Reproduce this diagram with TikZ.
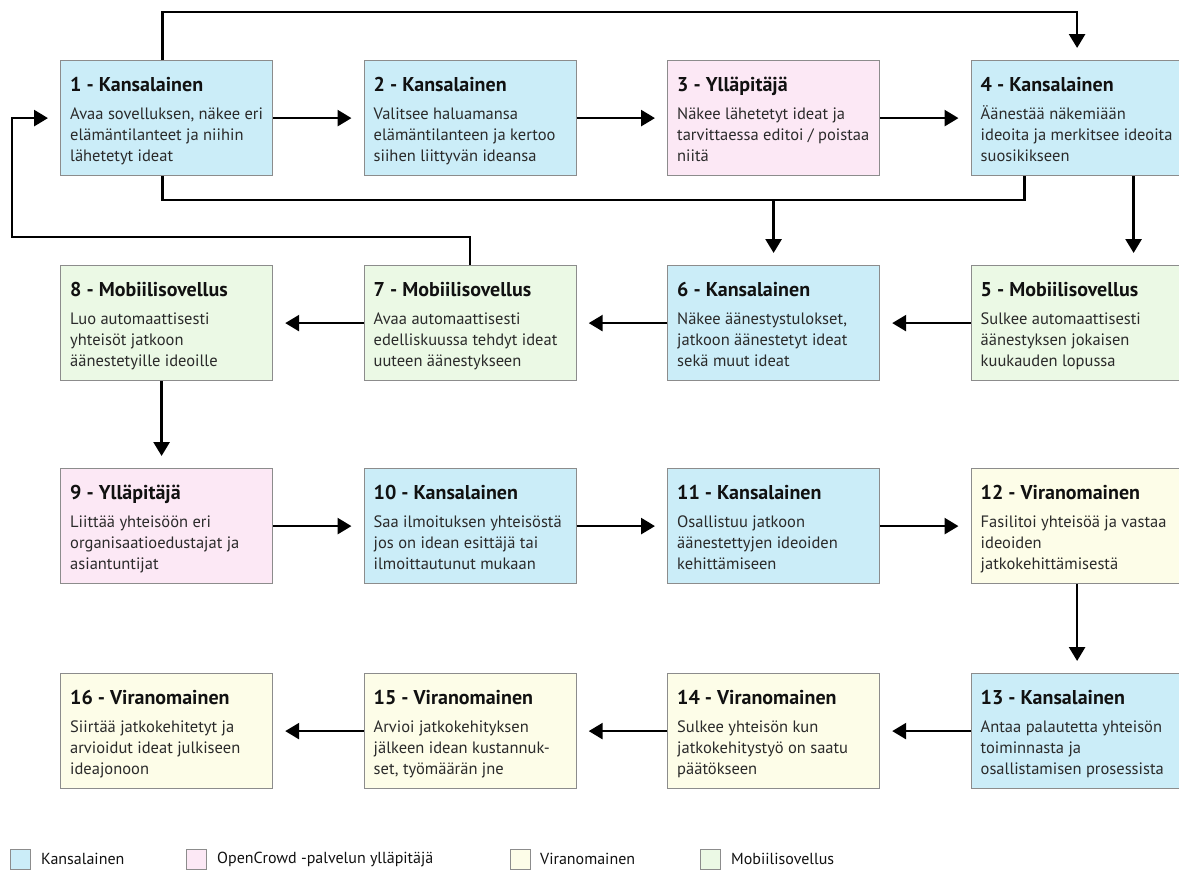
\documentclass[tikz,border=0pt]{standalone}
\usepackage{fontspec}
\setmainfont{PT Sans}
\usetikzlibrary{arrows.meta}

\definecolor{citizen}{HTML}{CBEDF8}
\definecolor{admin}{HTML}{FCE8F5}
\definecolor{authority}{HTML}{FDFDE8}
\definecolor{mobile}{HTML}{EBF9E5}
\definecolor{edge}{HTML}{8C8C8C}
\definecolor{ink}{HTML}{111111}
\definecolor{bodyink}{HTML}{2A2A2A}

\tikzset{
  card/.style={draw=edge, line width=1.2pt, rectangle, inner sep=0pt,
    minimum width=212pt, minimum height=115pt, anchor=north west},
  cardhead/.style={anchor=base west, inner sep=0pt,
    font=\fontsize{20}{22}\selectfont\bfseries, text=ink},
  cardbody/.style={anchor=base west, inner sep=0pt,
    font=\fontsize{16.5}{21}\selectfont, text=bodyink},
  conn/.style={line width=2.7pt, line join=miter},
  flow/.style={conn, -{Triangle[length=14pt,width=16pt]}, shorten >=12pt},
  key/.style={draw=edge, line width=1pt, minimum size=20pt, inner sep=0pt,
    anchor=north west},
  keytext/.style={anchor=west, inner sep=0pt,
    font=\fontsize{16}{19}\selectfont, text=ink},
}

% one process step: name, left, top, fill colour, heading, description
\newcommand\flowcard[6]{%
  \node[card, fill=#4] (#1) at (#2,#3) {};
  \node[cardhead] (#1h) at ([shift={(10pt,-31.5pt)}]#1.north west) {#5};
  \node[cardbody] (#1d) at ([shift={(10pt,-59.5pt)}]#1.north west)
    {\parbox[t]{205pt}{\raggedright #6}};
}

\begin{document}
\begin{tikzpicture}[x=1pt, y=-1pt]
\useasboundingbox (0,0) rectangle (1179,870);

% row 1
\flowcard{b1}{60}{60}{citizen}{1 - Kansalainen}
  {Avaa sovelluksen, näkee eri\\elämäntilanteet ja niihin\\lähetetyt ideat}
\flowcard{b2}{363.5}{60}{citizen}{2 - Kansalainen}
  {Valitsee haluamansa\\elämäntilanteen ja kertoo\\siihen liittyvän ideansa}
\flowcard{b3}{667}{60}{admin}{3 - Ylläpitäjä}
  {Näkee lähetetyt ideat ja\\tarvittaessa editoi / poistaa\\niitä}
\flowcard{b4}{970.5}{60}{citizen}{4 - Kansalainen}
  {Äänestää näkemiään\\ideoita ja merkitsee ideoita\\suosikikseen}

% row 2
\flowcard{b8}{60}{265}{mobile}{8 - Mobiilisovellus}
  {Luo automaattisesti\\yhteisöt jatkoon\\äänestetyille ideoille}
\flowcard{b7}{363.5}{265}{mobile}{7 - Mobiilisovellus}
  {Avaa automaattisesti\\edelliskuussa tehdyt ideat\\uuteen äänestykseen}
\flowcard{b6}{667}{265}{citizen}{6 - Kansalainen}
  {Näkee äänestystulokset,\\jatkoon äänestetyt ideat\\sekä muut ideat}
\flowcard{b5}{970.5}{265}{mobile}{5 - Mobiilisovellus}
  {Sulkee automaattisesti\\äänestyksen jokaisen\\kuukauden lopussa}

% row 3
\flowcard{b9}{60}{468}{admin}{9 - Ylläpitäjä}
  {Liittää yhteisöön eri\\organisaatioedustajat ja\\asiantuntijat}
\flowcard{b10}{363.5}{468}{citizen}{10 - Kansalainen}
  {Saa ilmoituksen yhteisöstä\\jos on idean esittäjä tai\\ilmoittautunut mukaan}
\flowcard{b11}{667}{468}{citizen}{11 - Kansalainen}
  {Osallistuu jatkoon\\äänestettyjen ideoiden\\kehittämiseen}
\flowcard{b12}{970.5}{468}{authority}{12 - Viranomainen}
  {Fasilitoi yhteisöä ja vastaa\\ideoiden\\jatkokehittämisestä}

% row 4
\flowcard{b16}{60}{673}{authority}{16 - Viranomainen}
  {Siirtää jatkokehitetyt ja\\arvioidut ideat julkiseen\\ideajonoon}
\flowcard{b15}{363.5}{673}{authority}{15 - Viranomainen}
  {Arvioi jatkokehityksen\\jälkeen idean kustannuk-\\set, työmäärän jne}
\flowcard{b14}{667}{673}{authority}{14 - Viranomainen}
  {Sulkee yhteisön kun\\jatkokehitystyö on saatu\\päätökseen}
\flowcard{b13}{970.5}{673}{citizen}{13 - Kansalainen}
  {Antaa palautetta yhteisön\\toiminnasta ja\\osallistamisen prosessista}

% routing levels of the long connectors
\coordinate (topy) at (0,12);
\coordinate (midy) at (0,200);
\coordinate (loopy) at (0,237);
\coordinate (loopx) at (12,0);

% row 1 flow
\draw[flow] (b1.east) -- (b2.west);
\draw[flow] (b2.east) -- (b3.west);
\draw[flow] (b3.east) -- (b4.west);
\draw[flow] ([xshift=-4pt]b1.north) -- ([xshift=-4pt]b1.north |- topy)
  -- (b4.north |- topy) -- (b4.north);

% from 1 and 4 down to 6, from 4 down to 5
\draw[conn] ([xshift=-52.5pt]b4.south) -- ([xshift=-52.5pt]b4.south |- midy)
  -- ([xshift=-4pt]b1.south |- midy) -- ([xshift=-4pt]b1.south);
\draw[flow] (b6.north |- midy) -- (b6.north);
\draw[flow] ([xshift=56.5pt]b4.south) -- ([xshift=56.5pt]b4.south |- b5.north);

% row 2 flow (right to left)
\draw[flow] (b5.west) -- (b6.east);
\draw[flow] (b6.west) -- (b7.east);
\draw[flow] (b7.west) -- (b8.east);
\draw[flow] (b7.north) -- (b7.north |- loopy) -- (loopx |- loopy)
  -- (loopx |- b1.west) -- (b1.west);

% down to row 3
\draw[flow] ([xshift=-5pt]b8.south) -- ([xshift=-5pt]b9.north);

% row 3 flow
\draw[flow] (b9.east) -- (b10.west);
\draw[flow] (b10.east) -- (b11.west);
\draw[flow] (b11.east) -- (b12.west);
\draw[flow] (b12.south) -- (b13.north);

% row 4 flow (right to left)
\draw[flow] (b13.west) -- (b14.east);
\draw[flow] (b14.west) -- (b15.east);
\draw[flow] (b15.west) -- (b16.east);

% legend
\node[key, fill=citizen] (k1) at (10,849) {};
\node[keytext] (k1t) at (41,859) {Kansalainen};
\node[key, fill=admin] (k2) at (186,849) {};
\node[keytext] (k2t) at (217,859) {OpenCrowd -palvelun ylläpitäjä};
\node[key, fill=authority] (k3) at (510,849) {};
\node[keytext] (k3t) at (540,859) {Viranomainen};
\node[key, fill=mobile] (k4) at (700,849) {};
\node[keytext] (k4t) at (731,859) {Mobiilisovellus};
\end{tikzpicture}
\end{document}
